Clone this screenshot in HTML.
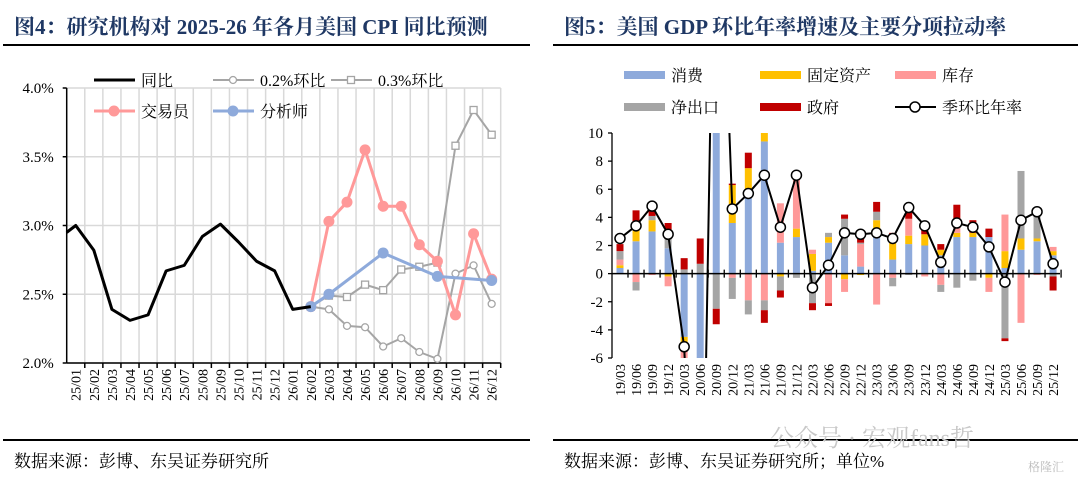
<!DOCTYPE html>
<html style="margin:0;padding:0;width:1080px;height:480px;overflow:hidden"><head><meta charset="utf-8">
<style>
body{margin:0;padding:0;background:#fff;width:1080px;height:480px;overflow:hidden}
svg{display:block}
text{font-family:"Liberation Serif","Noto Serif CJK SC",serif}
</style></head>
<body>
<svg id="s" width="1080" height="480" xmlns="http://www.w3.org/2000/svg">
<text x="14" y="34" font-size="21" font-weight="bold" fill="#1f3864">图4：研究机构对 2025-26 年各月美国 CPI 同比预测</text>
<line x1="3" y1="45" x2="530" y2="45" stroke="#000" stroke-width="2"/>
<text x="564" y="34" font-size="21" font-weight="bold" fill="#1f3864">图5：美国 GDP 环比年率增速及主要分项拉动率</text>
<line x1="553" y1="45" x2="1078" y2="45" stroke="#000" stroke-width="2"/>
<line x1="3" y1="440" x2="530" y2="440" stroke="#000" stroke-width="2"/>
<line x1="553" y1="440" x2="1078" y2="440" stroke="#000" stroke-width="2"/>
<text x="14" y="467" font-size="17" fill="#000">数据来源：彭博、东吴证券研究所</text>
<text x="564" y="467" font-size="17" fill="#000">数据来源：彭博、东吴证券研究所；单位%</text>
<text x="770" y="446" font-size="24" fill="#c8c8c8" font-family="Liberation Sans,Noto Sans CJK SC,sans-serif">公众号 · 宏观fans哲</text>
<text x="1028" y="471" font-size="12" fill="#bbb" font-family="Liberation Sans,Noto Sans CJK SC,sans-serif">格隆汇</text>
<g id="L"></g><g id="R"></g>
</svg>
<script>
// ---- Left chart data ----
const cpiMonths=["25/01","25/02","25/03","25/04","25/05","25/06","25/07","25/08","25/09","25/10","25/11","25/12","26/01","26/02","26/03","26/04","26/05","26/06","26/07","26/08","26/09","26/10","26/11","26/12"];
const cpiPrev=2.95;
const cpiActual=[3.0,2.82,2.39,2.31,2.35,2.67,2.71,2.92,3.01,2.88,2.74,2.67,2.39,2.41];
const cpiTrader=[null,null,null,null,null,null,null,null,null,null,null,null,null,2.41,3.03,3.17,3.55,3.14,3.14,2.86,2.74,2.35,2.94,2.61];
const cpiAnalyst=[null,null,null,null,null,null,null,null,null,null,null,null,null,2.41,2.50,null,null,2.80,null,null,2.63,null,null,2.60];
const cpiMom02=[null,null,null,null,null,null,null,null,null,null,null,null,null,2.41,2.39,2.27,2.26,2.12,2.18,2.08,2.03,2.65,2.71,2.43];
const cpiMom03=[null,null,null,null,null,null,null,null,null,null,null,null,null,2.41,2.49,2.48,2.57,2.53,2.68,2.70,2.73,3.58,3.84,3.66];
const cpiTicks=[2.0,2.5,3.0,3.5,4.0];
// ---- Right chart data ----
const gdpQuarters=["19/03","19/06","19/09","19/12","20/03","20/06","20/09","20/12","21/03","21/06","21/09","21/12","22/03","22/06","22/09","22/12","23/03","23/06","23/09","23/12","24/03","24/06","24/09","24/12","25/03","25/06","25/09","25/12"];
const gdpCons=[0.4,2.3,3.0,1.8,-4.5,-24,25,3.6,5.5,9.4,2.2,2.6,0.2,2.2,1.3,0.5,2.8,1.0,2.1,2.0,1.3,2.6,2.6,2.6,0.4,1.7,2.3,1.3];
const gdpFixed=[0.2,0.9,0.8,-0.2,-0.5,-5,4,2.7,2.0,1.0,-0.2,0.6,1.2,0.4,-0.4,-0.1,1.0,1.2,0.6,0.8,0.4,0.3,0.3,-0.3,1.2,0.8,0.2,0.3];
const gdpInv=[0.4,-0.6,-0.1,-0.7,-1.0,-4,6,-0.3,-1.9,-1.9,2.8,3.9,0.3,-2.1,-0.9,1.6,-2.2,-0.3,1.2,-0.2,-0.8,1.0,0.0,-1.0,2.6,-3.5,-0.1,0.3];
const gdpNet=[0.6,-0.6,0.3,0.9,0.3,0.7,-2.5,-1.5,-1.0,-0.7,-1.0,-0.3,-2.1,0.3,2.6,0.1,0.6,-0.6,-0.1,0.0,-0.5,-1.0,-0.5,0.0,-4.6,4.8,1.9,-0.2];
const gdpGov=[0.5,1.3,0.5,0.9,0.8,1.8,-1.1,0.1,1.1,-0.9,-0.5,0.0,-0.5,-0.2,0.3,0.6,0.7,0.7,0.8,0.3,0.4,1.0,0.9,0.6,-0.2,0.0,0.0,-1.0];
const gdpTotal=[2.5,3.4,4.8,2.8,-5.2,-30,35,4.6,5.7,7.0,3.3,7.0,-1.0,0.6,2.9,2.8,2.9,2.5,4.7,3.4,0.8,3.6,3.3,1.9,-0.6,3.8,4.4,0.7];
const gdpTicks=[-6,-4,-2,0,2,4,6,8,10];

const NS="http://www.w3.org/2000/svg";
function mk(p,tag,a,txt){const e=document.createElementNS(NS,tag);for(const k in a)e.setAttribute(k,a[k]);if(txt!==undefined)e.textContent=txt;p.appendChild(e);return e;}

// ===== Left chart =====
const L=document.getElementById('L');
const lx0=66.7,lx1=500.7,ly0=363,ly1=88,lmin=2.0,lmax=4.0;
const lbw=(lx1-lx0)/cpiMonths.length;
const lX=i=>lx0+lbw*(i+0.5);
const lY=v=>ly0-(v-lmin)/(lmax-lmin)*(ly0-ly1);
for(let i=1;i<=cpiMonths.length;i++){
  const g=mk(L,'line',{x1:lx0+lbw*i,x2:lx0+lbw*i,y1:ly1,y2:ly0,stroke:'#d9d9d9','stroke-width':1.5});
  
  
}
cpiTicks.forEach(t=>{
  const g=mk(L,'line',{x1:lx0,x2:lx1,y1:lY(t),y2:lY(t),stroke:'#d9d9d9','stroke-width':1.5});
  
  
  const tk=mk(L,'line',{x1:lx0-4,x2:lx0,y1:lY(t),y2:lY(t),stroke:'#000','stroke-width':1.5});
  
  
  const tx=mk(L,'text',{x:lx0-13,y:lY(t)+5,'text-anchor':'end','font-size':15},t.toFixed(1)+'%');
  
  
});
const ax=mk(L,'line',{x1:lx0,x2:lx0,y1:ly1,y2:ly0,stroke:'#000','stroke-width':1.5});


const axx=mk(L,'line',{x1:lx0,x2:lx1,y1:ly0,y2:ly0,stroke:'#000','stroke-width':1.5});


cpiMonths.forEach((m,i)=>{
  const tk=mk(L,'line',{x1:lx0+lbw*(i+1),x2:lx0+lbw*(i+1),y1:ly0,y2:ly0+5,stroke:'#000','stroke-width':1.5});
  
  
  const t=mk(L,'text',{x:0,y:0,'font-size':14,'text-anchor':'end',transform:`translate(${lX(i)+5},369) rotate(-90)`},m);
  
  
});
function lpath(arr,startPrev){
  let d='';let pen=false;
  if(startPrev!==undefined){d='M'+lx0+','+lY((startPrev+arr[0])/2);pen=true;}
  arr.forEach((v,i)=>{if(v===null)return;d+=(pen?'L':'M')+lX(i)+','+lY(v);pen=true;});
  return d;
}
function lseries(arr,color,w,name,marker,startPrev){
  const p=mk(L,'path',{d:lpath(arr,startPrev),fill:'none',stroke:color,'stroke-width':w,'stroke-linejoin':'round'});
  
  
  if(!marker)return;
  arr.forEach((v,i)=>{
    if(v===null)return;
    let m;
    if(marker==='circle')m=mk(L,'circle',{cx:lX(i),cy:lY(v),r:3.5,fill:'#fff',stroke:color,'stroke-width':1.3});
    else if(marker==='square')m=mk(L,'rect',{x:lX(i)-3.5,y:lY(v)-3.5,width:7,height:7,fill:'#fff',stroke:color,'stroke-width':1.3});
    else m=mk(L,'circle',{cx:lX(i),cy:lY(v),r:5.5,fill:color});
    
    
  });
}
lseries(cpiMom02,'#a5a5a5',2,'mom-0.2-series','circle');
lseries(cpiMom03,'#a5a5a5',2,'mom-0.3-series','square');
lseries(cpiTrader,'#ff9999',3,'trader-series','dot');
lseries(cpiAnalyst,'#8eaadb',3,'analyst-series','dot');
lseries(cpiActual,'#000',3,'actual-yoy-series',null,cpiPrev*2-cpiActual[0]);
function lleg(x,y,color,w,marker,label,name){
  const g=mk(L,'g',{});
  
  
  mk(g,'line',{x1:x,x2:x+41,y1:y,y2:y,stroke:color,'stroke-width':w});
  if(marker==='circle')mk(g,'circle',{cx:x+20,cy:y,r:3.5,fill:'#fff',stroke:color,'stroke-width':1.3});
  if(marker==='square')mk(g,'rect',{x:x+16.5,y:y-3.5,width:7,height:7,fill:'#fff',stroke:color,'stroke-width':1.3});
  if(marker==='dot')mk(g,'circle',{cx:x+20,cy:y,r:5.5,fill:color});
  mk(g,'text',{x:x+47,y:y+6,'font-size':16},label);
}
lleg(94,80,'#000',3,null,'同比','legend-yoy');
lleg(213,80,'#a5a5a5',2,'circle','0.2%环比','legend-mom-0.2');
lleg(331,80,'#a5a5a5',2,'square','0.3%环比','legend-mom-0.3');
lleg(94,111,'#ff9999',3,'dot','交易员','legend-trader');
lleg(213,111,'#8eaadb',3,'dot','分析师','legend-analyst');

// ===== Right chart =====
const R=document.getElementById('R');
const rx0=612,rx1=1060,ry0=358,ry1=133,rmin=-6,rmax=10;
const rX=i=>620+16.04*i;
const rY=v=>ry0-(v-rmin)/(rmax-rmin)*(ry0-ry1);
const clip=mk(R,'clipPath',{id:'rc'});
mk(clip,'rect',{x:rx0,y:ry1,width:rx1-rx0,height:ry0-ry1});
gdpTicks.forEach(t=>{
  const tx=mk(R,'text',{x:603,y:rY(t)+5,'text-anchor':'end','font-size':15},String(t));
  
  
  const tk=mk(R,'line',{x1:rx0-4,x2:rx0,y1:rY(t),y2:rY(t),stroke:'#000','stroke-width':1.3});
  
  
});
const bars=mk(R,'g',{'clip-path':'url(#rc)'});
const comps=[[gdpCons,'#8eaadb','consumption'],[gdpFixed,'#ffc000','fixed-investment'],[gdpInv,'#ff9999','inventory'],[gdpNet,'#a5a5a5','net-exports'],[gdpGov,'#c00000','government']];
gdpQuarters.forEach((q,i)=>{
  let pos=0,neg=0;
  comps.forEach(([arr,col,nm])=>{
    const v=arr[i];if(!v)return;
    let a,b;
    if(v>0){a=pos;b=pos+v;pos=b;}else{a=neg;b=neg+v;neg=b;}
    const y1=rY(Math.max(a,b)),y2=rY(Math.min(a,b));
    const r=mk(bars,'rect',{x:rX(i)-3.5,y:y1,width:7,height:y2-y1,fill:col});
    
    
  });
});
const ya=mk(R,'line',{x1:rx0,x2:rx0,y1:ry1,y2:ry0,stroke:'#000','stroke-width':1.3});


const za=mk(R,'line',{x1:rx0,x2:rx1,y1:rY(0),y2:rY(0),stroke:'#000','stroke-width':1.5});


gdpQuarters.forEach((q,i)=>{
  const tk=mk(R,'line',{x1:rX(i)+8,x2:rX(i)+8,y1:rY(0)-4,y2:rY(0)+4,stroke:'#000','stroke-width':1.3});
  
  
  const t=mk(R,'text',{x:0,y:0,'font-size':14,'text-anchor':'end',transform:`translate(${rX(i)+5},364) rotate(-90)`},q);
  
  
});
const lineG=mk(R,'g',{'clip-path':'url(#rc)'});
let d='';gdpTotal.forEach((v,i)=>{d+=(i?'L':'M')+rX(i)+','+rY(v);});
const gl=mk(lineG,'path',{d:d,fill:'none',stroke:'#000','stroke-width':2});


gdpTotal.forEach((v,i)=>{
  if(v<rmin||v>rmax)return;
  const c=mk(R,'circle',{cx:rX(i),cy:rY(v),r:5,fill:'#fff',stroke:'#000','stroke-width':1.5});
  
  
});
function rleg(x,y,color,label,name,isLine){
  const g=mk(R,'g',{});
  
  
  if(isLine){mk(g,'line',{x1:x,x2:x+41,y1:y,y2:y,stroke:'#000','stroke-width':2});mk(g,'circle',{cx:x+20,cy:y,r:5,fill:'#fff',stroke:'#000','stroke-width':1.5});}
  else mk(g,'rect',{x:x,y:y-4,width:41,height:8,fill:color});
  mk(g,'text',{x:x+47,y:y+6,'font-size':16},label);
}
rleg(624,75,'#8eaadb','消费','legend-consumption');
rleg(760,75,'#ffc000','固定资产','legend-fixed-investment');
rleg(895,75,'#ff9999','库存','legend-inventory');
rleg(624,107,'#a5a5a5','净出口','legend-net-exports');
rleg(760,107,'#c00000','政府','legend-government');
rleg(895,107,null,'季环比年率','legend-gdp-line',true);
</script>
</body></html>
